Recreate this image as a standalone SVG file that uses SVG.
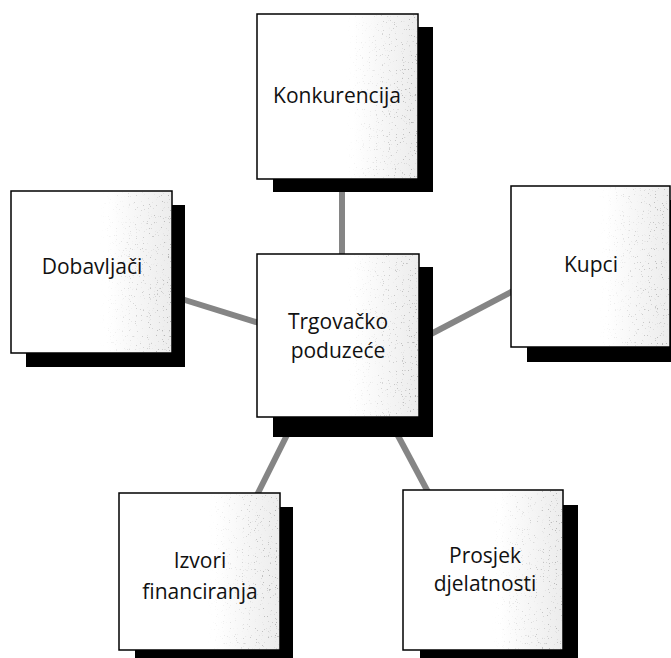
<svg xmlns="http://www.w3.org/2000/svg" width="671" height="658" viewBox="0 0 671 658">
<style>
.box{stroke:#000;stroke-width:1.5;fill:url(#g)}
.sp{fill:url(#ga);filter:url(#n)}
.sh{fill:#000}
.lbl{font-family:"Open Sans","Noto Sans",sans-serif;font-size:21px;fill:#111;text-anchor:middle}
.con{stroke:#858585;stroke-width:6;stroke-linecap:butt;fill:none}
</style>
<defs>
<linearGradient id="g" x1="0" y1="0" x2="1" y2="0">
<stop offset="0" stop-color="#fff"/>
<stop offset="0.6" stop-color="#fff"/>
<stop offset="1" stop-color="#ececec"/>
</linearGradient>
<linearGradient id="ga" x1="0" y1="0" x2="1" y2="0">
<stop offset="0" stop-color="#000" stop-opacity="0"/>
<stop offset="0.55" stop-color="#000" stop-opacity="0"/>
<stop offset="1" stop-color="#000" stop-opacity="1"/>
</linearGradient>
<filter id="n" x="0" y="0" width="1" height="1">
<feTurbulence type="fractalNoise" baseFrequency="0.85" numOctaves="1" seed="7" result="t"/>
<feColorMatrix in="t" type="matrix" values="0 0 0 0 0.45  0 0 0 0 0.45  0 0 0 0 0.45  14 0 0 0 -9.2" result="d"/>
<feComposite in="d" in2="SourceGraphic" operator="in"/>
</filter>
</defs>
<rect width="671" height="658" fill="#fff"/>
<g id="connectors">
<line class="con" x1="342" y1="190" x2="342" y2="256"/>
<line class="con" x1="172" y1="296" x2="259" y2="323"/>
<line class="con" x1="431" y1="334" x2="513" y2="291"/>
<line class="con" x1="288" y1="433" x2="257" y2="495"/>
<line class="con" x1="396" y1="432" x2="428" y2="492"/>
</g>
<g id="konkurencija">
<rect class="sh" x="273" y="27" width="160" height="165"/>
<rect class="box" x="257" y="14" width="161" height="165"/>
<rect class="sp" x="258" y="15" width="159" height="163"/>
<text class="lbl" x="337" y="103">Konkurencija</text>
</g>
<g id="dobavljaci">
<rect class="sh" x="26" y="205" width="159" height="162"/>
<rect class="box" x="11" y="191" width="161" height="162"/>
<rect class="sp" x="12" y="192" width="159" height="160"/>
<text class="lbl" x="92" y="274">Dobavljači</text>
</g>
<g id="trgovacko">
<rect class="sh" x="273" y="267" width="160" height="170" fill="#1c1c1c"/>
<rect class="box" x="257" y="254" width="162" height="163"/>
<rect class="sp" x="258" y="255" width="160" height="161"/>
<text class="lbl" x="338" y="329">Trgovačko</text>
<text class="lbl" x="338" y="358">poduzeće</text>
</g>
<g id="kupci">
<rect class="sh" x="527" y="200" width="150" height="162"/>
<rect class="box" x="511" y="186" width="159" height="161"/>
<rect class="sp" x="512" y="187" width="157" height="159"/>
<text class="lbl" x="591" y="272">Kupci</text>
</g>
<g id="izvori">
<rect class="sh" x="135" y="507" width="158" height="151"/>
<rect class="box" x="119" y="493" width="161" height="157"/>
<rect class="sp" x="120" y="494" width="159" height="155"/>
<text class="lbl" x="200" y="568">Izvori</text>
<text class="lbl" x="200" y="599">financiranja</text>
</g>
<g id="prosjek">
<rect class="sh" x="420" y="505" width="158" height="153"/>
<rect class="box" x="403" y="490" width="160" height="160"/>
<rect class="sp" x="404" y="491" width="158" height="158"/>
<text class="lbl" x="485" y="563">Prosjek</text>
<text class="lbl" x="485" y="591">djelatnosti</text>
</g>
</svg>
